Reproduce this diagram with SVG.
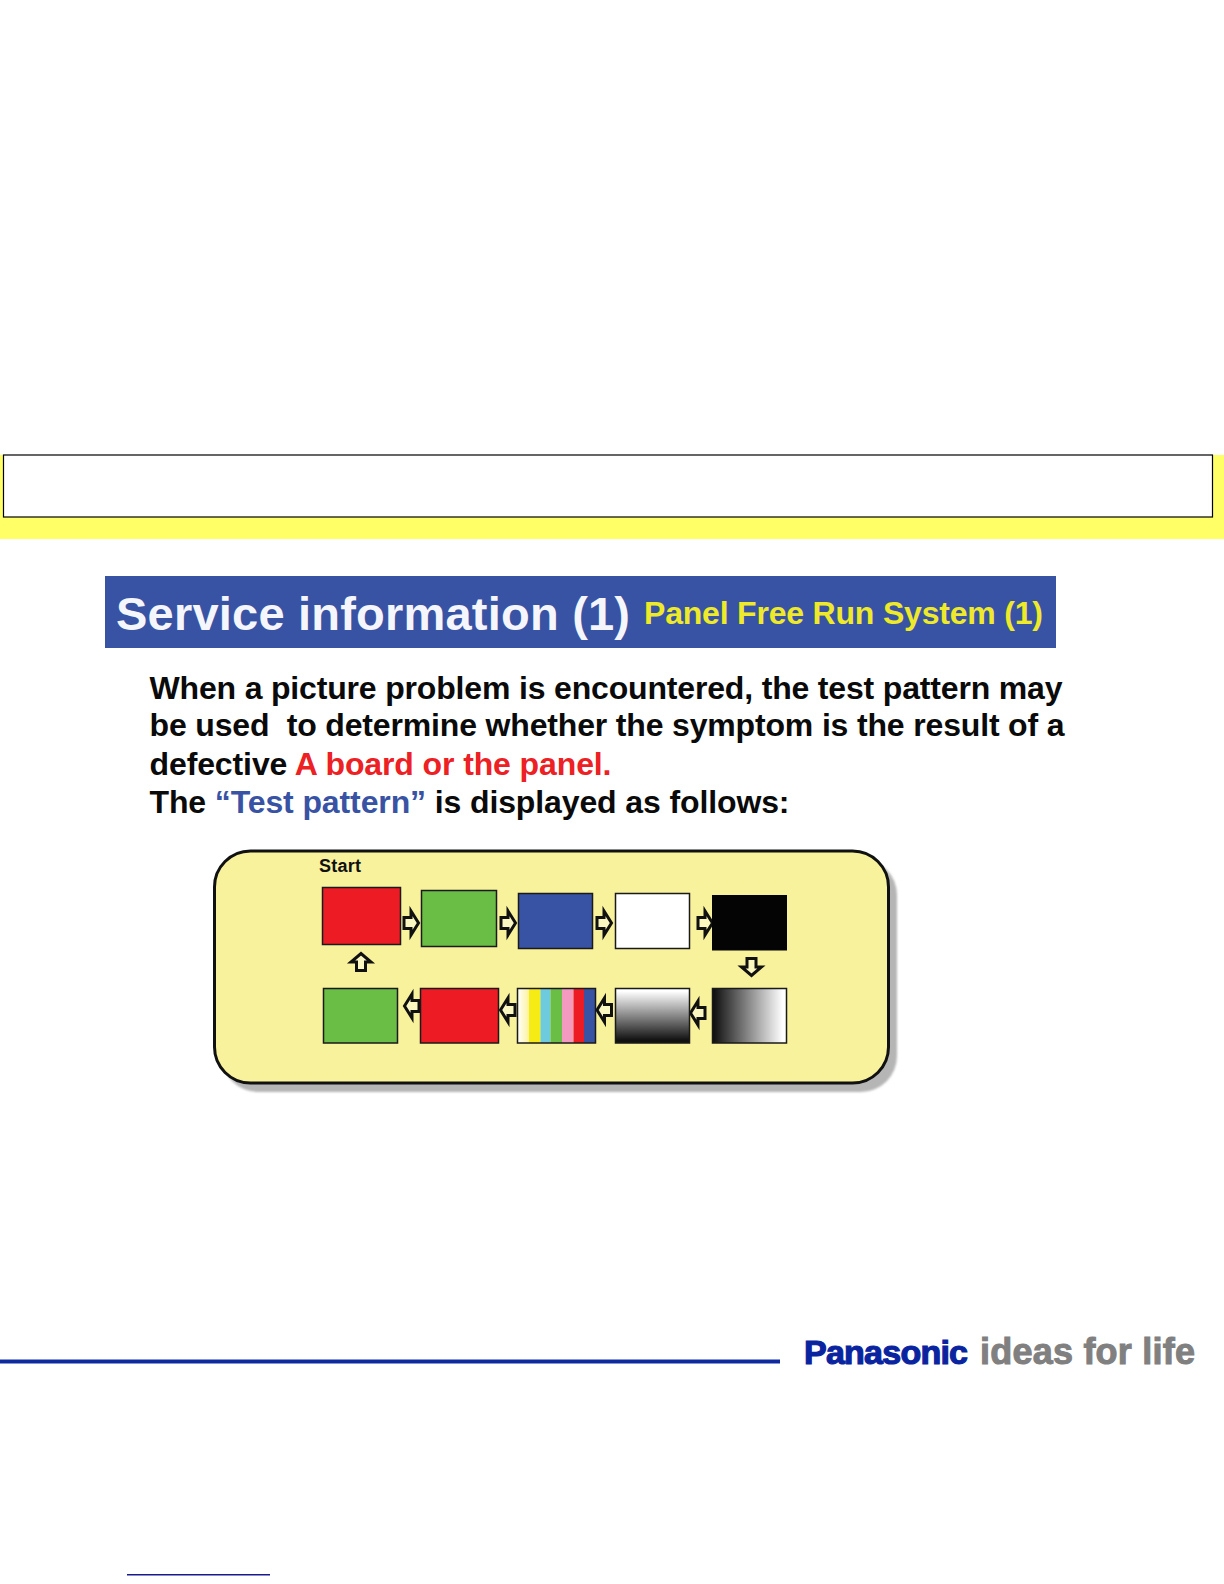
<svg xmlns="http://www.w3.org/2000/svg" width="1224" height="1584" viewBox="0 0 1224 1584">
<style>
text{font-family:"Liberation Sans",Arial,sans-serif;font-weight:bold}
.body{font-size:32px;fill:#0a0a0a}
.box{stroke:#1a1a1a;stroke-width:1.5}
.arrow{fill:#fbf7c0;stroke:#111;stroke-width:3;stroke-linejoin:miter}
</style>
<defs>
<linearGradient id="gv" x1="0" y1="0" x2="0" y2="1"><stop offset="0.05" stop-color="#fff"/><stop offset="0.95" stop-color="#111"/></linearGradient>
<linearGradient id="gh" x1="0" y1="0" x2="1" y2="0"><stop offset="0.02" stop-color="#111"/><stop offset="0.95" stop-color="#fff"/></linearGradient>
<linearGradient id="py" x1="0" y1="0" x2="1" y2="0"><stop offset="0" stop-color="#fff"/><stop offset="1" stop-color="#fbf29a"/></linearGradient>
<filter id="soft" x="-5%" y="-5%" width="110%" height="110%"><feGaussianBlur stdDeviation="1.2"/></filter>
<path id="ar" class="arrow" d="M-7,-5.500 H0 V-12 L7.500,0 L0,12 V5.500 H-7Z"/>
<path id="av" class="arrow" d="M-8.500,-4.500 H0 V-10 L8.500,0 L0,10 V4.500 H-8.500Z"/>
</defs>
<rect width="1224" height="1584" fill="#fff"/>
<g id="band">
<rect x="0" y="455" width="1224" height="84" fill="#ffff66"/>
<rect x="3.500" y="455" width="1209" height="62" fill="#fff" stroke="#000" stroke-width="1.2"/>
</g>
<g id="header">
<rect x="105" y="576" width="951" height="72" fill="#3953a4"/>
<text x="116" y="630" font-size="47" fill="#f4f6fb" textLength="514" lengthAdjust="spacing">Service information (1)</text>
<text x="644" y="624" font-size="32" fill="#eeea2a" textLength="399" lengthAdjust="spacing">Panel Free Run System (1)</text>
</g>
<g id="intro">
<text class="body" x="149.500" y="699" textLength="913" lengthAdjust="spacing">When a picture problem is encountered, the test pattern may</text>
<text class="body" x="149.500" y="736" textLength="915" lengthAdjust="spacing" xml:space="preserve">be used  to determine whether the symptom is the result of a</text>
<text class="body" x="149.500" y="775" textLength="462" lengthAdjust="spacing">defective <tspan fill="#ed2024">A board or the panel.</tspan></text>
<text class="body" x="149.500" y="813" textLength="640" lengthAdjust="spacing">The <tspan fill="#3953a4">“Test pattern”</tspan> is displayed as follows:</text>
</g>
<g id="panel">
<rect x="222" y="859" width="675" height="233" rx="36" fill="#b5b5b5" filter="url(#soft)"/>
<rect x="214.500" y="851" width="674" height="232" rx="36" fill="#f8f29c" stroke="#111" stroke-width="3"/>
<text x="319" y="872" font-size="18" fill="#111" textLength="42" lengthAdjust="spacing">Start</text>
</g>
<g id="connectors">
<use href="#ar" transform="translate(411,923)"/>
<use href="#ar" transform="translate(508,923)"/>
<use href="#ar" transform="translate(604,923)"/>
<use href="#ar" transform="translate(705,923)"/>
<use href="#av" transform="translate(751.500,967) rotate(90)"/>
<use href="#ar" transform="translate(698,1013) rotate(180)"/>
<use href="#ar" transform="translate(604.500,1010) rotate(180)"/>
<use href="#ar" transform="translate(508,1010) rotate(180)"/>
<use href="#ar" transform="translate(412,1006) rotate(180)"/>
<use href="#av" transform="translate(361,962) rotate(-90)"/>
</g>
<g id="p1-red"><rect class="box" x="322.500" y="887.500" width="78" height="57" fill="#ed1c24"/></g>
<g id="p2-green"><rect class="box" x="421.500" y="890.500" width="75" height="56" fill="#6abd45"/></g>
<g id="p3-blue"><rect class="box" x="518.500" y="893.500" width="74" height="55" fill="#3953a4"/></g>
<g id="p4-white"><rect class="box" x="615.500" y="893.500" width="74" height="55" fill="#fff"/></g>
<g id="p5-black"><rect x="712" y="895" width="75" height="55.500" fill="#040404"/></g>
<g id="p6-hgrad"><rect class="box" x="712.500" y="988.500" width="74" height="54.500" fill="url(#gh)"/></g>
<g id="p7-vgrad"><rect class="box" x="615.500" y="988.500" width="74" height="54.500" fill="url(#gv)"/></g>
<g id="p8-bars">
<rect x="517.500" y="988.500" width="12" height="54.500" fill="url(#py)"/>
<rect x="529" y="988.500" width="11.500" height="54.500" fill="#f6eb14"/>
<rect x="540.500" y="988.500" width="10" height="54.500" fill="#6dcbdd"/>
<rect x="550.500" y="988.500" width="11.500" height="54.500" fill="#6abd45"/>
<rect x="562" y="988.500" width="11.500" height="54.500" fill="#f49ac1"/>
<rect x="573.500" y="988.500" width="10.500" height="54.500" fill="#ed1c24"/>
<rect x="584" y="988.500" width="11.500" height="54.500" fill="#3953a4"/>
<rect x="517.500" y="988.500" width="78" height="54.500" fill="none" stroke="#1a1a1a" stroke-width="1.5"/>
</g>
<g id="p9-red"><rect class="box" x="420.500" y="988.500" width="78" height="54.500" fill="#ed1c24"/></g>
<g id="p10-green"><rect class="box" x="323.500" y="988.500" width="74" height="54.500" fill="#6abd45"/></g>
<g id="footer">
<rect x="0" y="1359.500" width="780" height="4" fill="#0f2aa0"/>
<text x="804" y="1364" font-size="34" fill="#0a24a0" stroke="#0a24a0" stroke-width="1.2" textLength="164" lengthAdjust="spacing">Panasonic</text>
<text x="980" y="1364" font-size="36" fill="#808080" stroke="#808080" stroke-width="1" textLength="215" lengthAdjust="spacing">ideas for life</text>
<rect x="127" y="1574" width="143" height="1.500" fill="#1a1a90"/>
</g>
</svg>
